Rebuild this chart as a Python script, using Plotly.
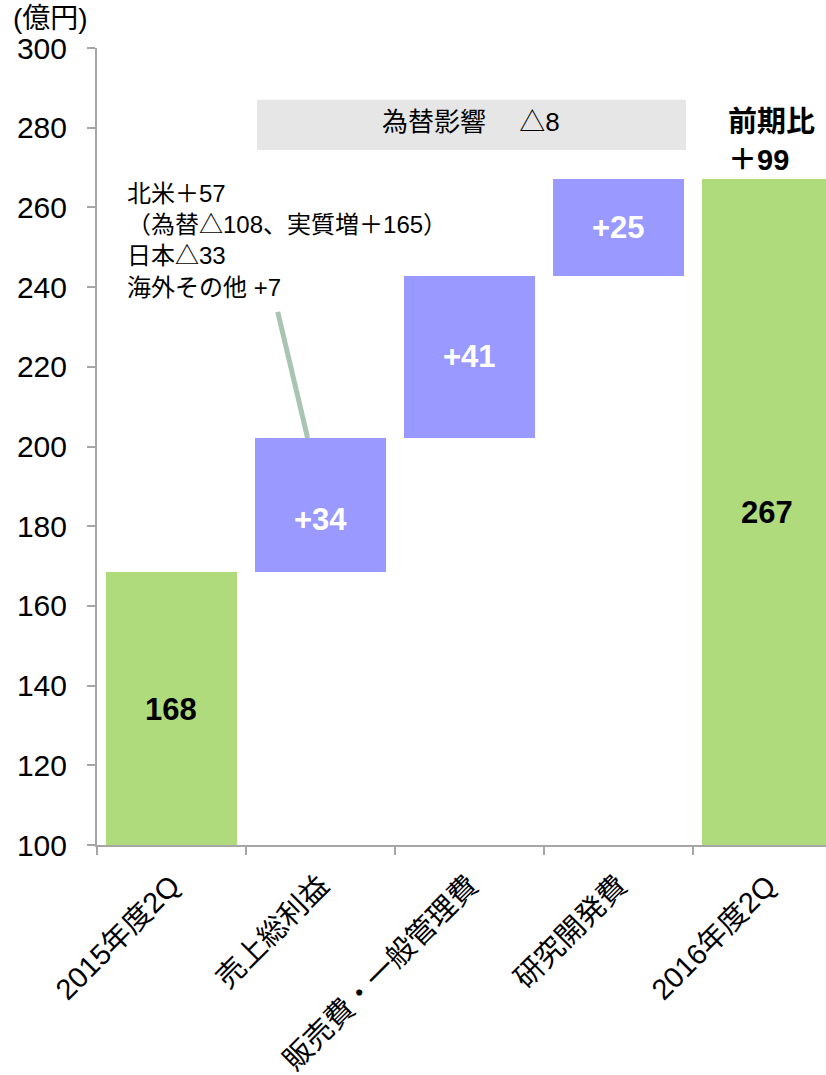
import plotly.graph_objects as go

# ---- data ----
categories = ["2015年度2Q", "売上総利益", "販売費・一般管理費", "研究開発費", "2016年度2Q"]
bar_bottom = [100, 168.4, 202.2, 242.8, 100]
bar_top = [168.4, 202.2, 242.8, 267.2, 267.2]
bar_labels = ["168", "+34", "+41", "+25", "267"]
label_y = [134, 181.8, 222.5, 255, 183.5]
label_colors = ["black", "white", "white", "white", "black"]
bar_colors = ["#AFDB7C", "#9999FF", "#9999FF", "#9999FF", "#AFDB7C"]

y_ticks = [100, 120, 140, 160, 180, 200, 220, 240, 260, 280, 300]

FONT = "Arial, Liberation Sans, Noto Sans CJK JP, sans-serif"

fig = go.Figure()
fig.add_trace(go.Bar(
    x=categories,
    y=[t - b for t, b in zip(bar_top, bar_bottom)],
    base=bar_bottom,
    marker=dict(color=bar_colors, line=dict(width=0)),
    width=0.874,
    hoverinfo="skip",
))

for cat, lab, ly, lc in zip(categories, bar_labels, label_y, label_colors):
    fig.add_annotation(x=cat, y=ly, xref="x", yref="y", text=f"<b>{lab}</b>",
                       showarrow=False, font=dict(size=31, color=lc, family=FONT))

# currency effect box
fig.add_shape(type="rect", xref="x", yref="y", x0=0.574, x1=3.453, y0=274.4, y1=287,
              fillcolor="#E6E6E6", line=dict(width=0), layer="below")
fig.add_annotation(x=2.013, y=281.4, xref="x", yref="y", text="為替影響　 △8",
                   showarrow=False, font=dict(size=26, color="black", family=FONT))

# callout
fig.add_shape(type="line", xref="x", yref="y", x0=0.713, y0=233.8, x1=0.914, y1=202.1,
              line=dict(color="#A9C4B3", width=5))
fig.add_annotation(x=-0.312, y=267.5, xref="x", yref="y", xanchor="left", yanchor="top",
                   align="left", showarrow=False,
                   text="北米＋57<br>（為替△108、実質増＋165）<br>日本△33<br>海外その他 +7",
                   font=dict(size=24, color="black", family=FONT))

# comparison
fig.add_annotation(x=3.72, y=276.7, xref="x", yref="y", xanchor="left", yanchor="middle",
                   align="left", showarrow=False,
                   text="<b>前期比</b><br><b>＋99</b>",
                   font=dict(size=29, color="black", family=FONT))

# unit
fig.add_annotation(x=0, y=1, xref="paper", yref="paper", xshift=-86, yshift=47,
                   xanchor="left", yanchor="top", showarrow=False,
                   text="(億円)", font=dict(size=28, color="black", family=FONT))

fig.update_layout(
    width=826, height=1075,
    margin=dict(l=97, r=0, t=48, b=230),
    plot_bgcolor="white", paper_bgcolor="white",
    showlegend=False,
    font=dict(family=FONT, color="black"),
    bargap=0,
    xaxis=dict(
        type="category", categoryorder="array", categoryarray=categories,
        range=[-0.5, 4.393], tickangle=-45, ticks="outside", tickson="boundaries",
        ticklen=8, tickwidth=2, tickcolor="#A6A6A6",
        showline=True, linecolor="#A6A6A6", linewidth=2,
        showgrid=False, zeroline=False,
        tickfont=dict(size=29, color="black", family=FONT),
        ticklabelstandoff=10,
    ),
    yaxis=dict(
        range=[100, 300], tickvals=y_ticks, ticks="outside",
        ticklen=8, tickwidth=2, tickcolor="#A6A6A6",
        showline=True, linecolor="#A6A6A6", linewidth=2,
        showgrid=False, zeroline=False,
        tickfont=dict(size=30, color="black", family=FONT),
        ticklabelstandoff=14,
    ),
)

fig.write_html("out.html")
